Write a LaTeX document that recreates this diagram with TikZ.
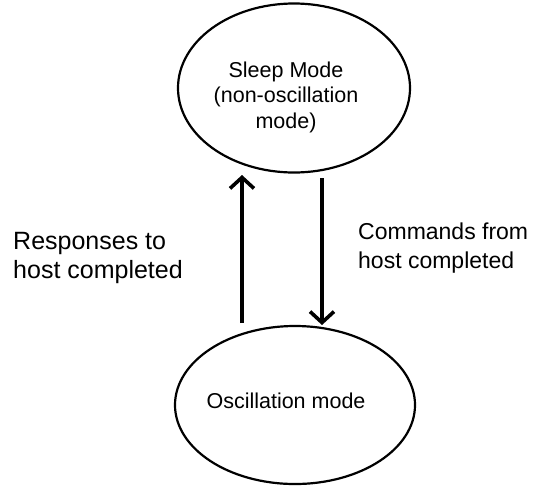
\documentclass[tikz,border=0pt]{standalone}
\usepackage{fontspec}
\setmainfont{Liberation Sans}
\usetikzlibrary{arrows.meta,shapes.geometric}
\begin{document}
\begin{tikzpicture}[x=1pt,y=-1pt,
  state/.style={draw=black,line width=2.2pt,ellipse,inner sep=0pt},
  txt/.style={inner sep=0pt,font=\fontsize{21.5}{25.5}\selectfont,align=center},
  lbl/.style={inner sep=0pt,align=left,anchor=west},
  flow/.style={line width=3.6pt,-{Straight Barb[length=11pt,width=24pt,line width=3.6pt]}}]
\useasboundingbox (0,0) rectangle (534,485);
\node[state,minimum width=232pt,minimum height=169pt] (sleep) at (294,88) {};
\node[state,minimum width=240pt,minimum height=158pt] (osc) at (295,405) {};
\node[txt] (sleeptxt) at (286,97) {Sleep Mode\\(non-oscillation\\mode)};
\node[txt] (osctxt) at (286,401) {Oscillation mode};
\coordinate (upS) at (242,323);
\coordinate (upE) at (242,175);
\coordinate (dnS) at (322,178);
\coordinate (dnE) at (322,325);
\draw[flow] (upS) -- (upE);
\draw[flow] (dnS) -- (dnE);
\node[lbl,font=\fontsize{25}{29}\selectfont] (resp) at (13,258) {Responses to\\host completed};
\node[lbl,font=\fontsize{23}{29}\selectfont] (cmd) at (358,248) {Commands from\\host completed};
\end{tikzpicture}
\end{document}
